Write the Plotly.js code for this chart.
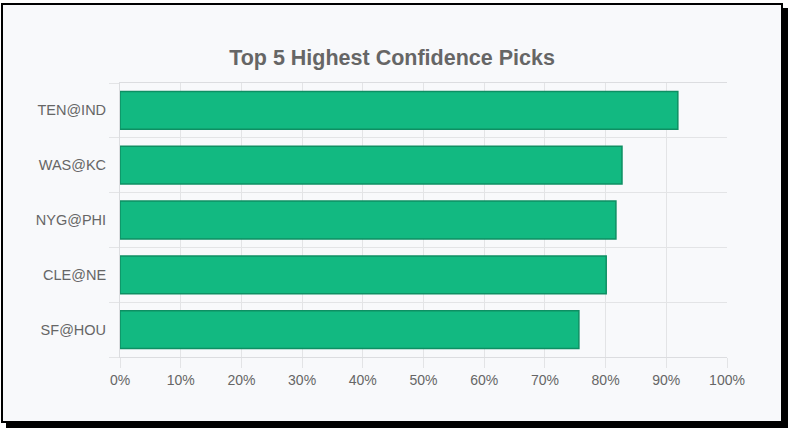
<!DOCTYPE html>
<html>
<head>
<meta charset="utf-8">
<script src="https://cdn.plot.ly/plotly-3.0.1.min.js"></script>
<style>
  html, body { margin: 0; padding: 0; background: #ffffff; width: 800px; height: 431px; overflow: hidden; }
  #frame {
    position: absolute; left: 1px; top: 3px;
    width: 778px; height: 416px;
    border: 2px solid #000;
    box-shadow: 5px 5px 0 #000;
    background: #f8f9fb;
  }
  #chart { width: 778px; height: 416px; }
</style>
</head>
<body>
<div id="frame"><div id="chart"></div></div>
<script>
const games = ["TEN@IND", "WAS@KC", "NYG@PHI", "CLE@NE", "SF@HOU"];
const confidence = [91.9, 82.7, 81.7, 80.1, 75.6];
const xTickVals = [0, 10, 20, 30, 40, 50, 60, 70, 80, 90, 100];
const xTickText = ["0%", "10%", "20%", "30%", "40%", "50%", "60%", "70%", "80%", "90%", "100%"];

const trace = {
  type: "bar",
  orientation: "h",
  x: confidence,
  y: games,
  marker: { color: "#12b981", line: { color: "#0e8f63", width: 1.5 } },
  hoverinfo: "none"
};

const layout = {
  width: 778, height: 416,
  paper_bgcolor: "#f8f9fb",
  plot_bgcolor: "#f8f9fb",
  margin: { l: 117, r: 54, t: 78, b: 64, pad: 0 },
  title: {
    text: "<b>Top 5 Highest Confidence Picks</b>",
    font: { family: "Liberation Sans, Arial, sans-serif", size: 21.5, color: "#666666" },
    x: 0.5, xanchor: "center", y: 0.875, yanchor: "middle"
  },
  bargap: 0.31,
  showlegend: false,
  xaxis: {
    range: [0, 100],
    tickvals: xTickVals,
    ticktext: xTickText,
    showgrid: true, gridcolor: "#e3e4e6", gridwidth: 1,
    ticks: "outside", ticklen: 10, tickcolor: "#e3e4e6",
    showline: true, linecolor: "#dcdde0", linewidth: 1, mirror: true,
    zeroline: false,
    tickfont: { family: "Liberation Sans, Arial, sans-serif", size: 14, color: "#666666" },
    fixedrange: true
  },
  yaxis: {
    type: "category",
    categoryorder: "array",
    categoryarray: games.slice().reverse(),
    autorange: true,
    tickson: "boundaries",
    showgrid: true, gridcolor: "#e3e4e6", gridwidth: 1,
    ticks: "outside", ticklen: 10, tickcolor: "#e3e4e6",
    ticklabelstandoff: 10,
    showline: true, linecolor: "#dcdde0", linewidth: 1, mirror: false,
    zeroline: false,
    tickfont: { family: "Liberation Sans, Arial, sans-serif", size: 14.5, color: "#666666" },
    fixedrange: true
  }
};

Plotly.newPlot("chart", [trace], layout, { displayModeBar: false, staticPlot: true });
</script>
</body>
</html>
